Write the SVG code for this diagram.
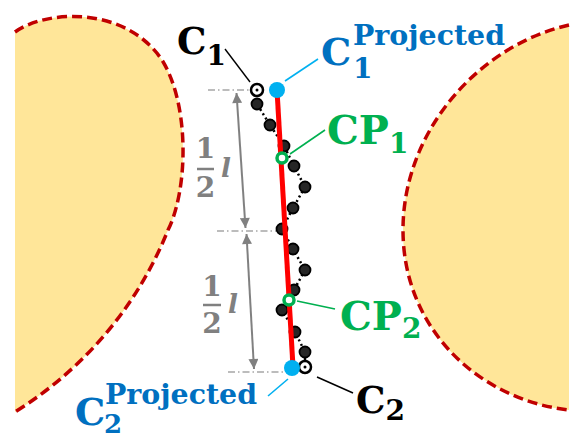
<svg xmlns="http://www.w3.org/2000/svg" width="572" height="440" viewBox="0 0 572 440">
<style>
.blob{fill:#FFE699;stroke:#C00000;stroke-width:3.5;stroke-dasharray:10 5}
.t{font-family:"DejaVu Serif","Liberation Serif",serif;font-weight:bold}
.dd{stroke:#A6A6A6;stroke-width:1.3;stroke-dasharray:7 3 1.5 3;fill:none}
.dim{stroke:#808080;stroke-width:2;fill:none}
.dot{fill:#262626;stroke:#000;stroke-width:1.8}
.grey{fill:#808080}
</style>
<defs>
<marker id="ah" viewBox="0 0 10 10" refX="10" refY="5" markerWidth="11" markerHeight="10" markerUnits="userSpaceOnUse" orient="auto-start-reverse">
<path d="M0,0 L10,5 L0,10 Z" fill="#808080"/>
</marker>
</defs>
<rect width="572" height="440" fill="#fff"/>
<g id="obstacle-left"><path class="blob" d="M15,32 C45,10 125,5 162,60 C190,105 188,190 168,230 C140,300 90,365 15,412"/></g>
<g id="obstacle-right"><path class="blob" d="M569,25 C480,45 403,130 403,230 C403,330 480,400 569,410"/></g>
<g id="dimensions">
<line class="dd" x1="208" y1="90" x2="253" y2="90"/>
<line class="dd" x1="217" y1="231" x2="281" y2="231"/>
<line class="dd" x1="228" y1="372" x2="290" y2="372"/>
<line class="dim" x1="236.5" y1="93" x2="245.5" y2="228" marker-start="url(#ah)" marker-end="url(#ah)"/>
<line class="dim" x1="246.5" y1="234" x2="254" y2="369" marker-start="url(#ah)" marker-end="url(#ah)"/>
<g id="half-l-1">
<text class="t grey" x="205.5" y="158" font-size="28" text-anchor="middle">1</text>
<line x1="197" y1="169" x2="214" y2="169" stroke="#808080" stroke-width="2.5"/>
<text class="t grey" x="205.5" y="197" font-size="28" text-anchor="middle">2</text>
<text class="t grey" x="221" y="177" font-size="26" font-style="italic">l</text>
</g>
<g id="half-l-2">
<text class="t grey" x="212" y="296" font-size="28" text-anchor="middle">1</text>
<line x1="203" y1="305" x2="221" y2="305" stroke="#808080" stroke-width="2.5"/>
<text class="t grey" x="212" y="333" font-size="28" text-anchor="middle">2</text>
<text class="t grey" x="228" y="313" font-size="26" font-style="italic">l</text>
</g>
</g>
<g id="connectors">
<polyline fill="none" stroke="#000" stroke-width="2.5" stroke-dasharray="2 3" points="257,90 257,104 270,125 284,146 294,166 305,187 293,208 282,229 293,249 305,270 294,290 282,310 295,332 305,352 305,367"/>
<line x1="225" y1="49" x2="250" y2="82" stroke="#000" stroke-width="1.4"/>
<line x1="285" y1="81" x2="318" y2="59" stroke="#00B0F0" stroke-width="1.6"/>
<line x1="290" y1="154" x2="325" y2="130" stroke="#00B050" stroke-width="1.6"/>
<line x1="297" y1="301" x2="335" y2="309" stroke="#00B050" stroke-width="1.6"/>
<line x1="317" y1="377" x2="353" y2="393" stroke="#000" stroke-width="1.4"/>
<line x1="268" y1="396" x2="288" y2="379" stroke="#00B0F0" stroke-width="1.6"/>
</g>
<g id="samples">
<circle class="dot" cx="257" cy="104" r="5.5"/>
<circle class="dot" cx="270" cy="125" r="5.5"/>
<circle class="dot" cx="284" cy="146" r="5.5"/>
<circle class="dot" cx="294" cy="166" r="5.5"/>
<circle class="dot" cx="305" cy="187" r="5.5"/>
<circle class="dot" cx="293" cy="208" r="5.5"/>
<circle class="dot" cx="282" cy="229" r="5.5"/>
<circle class="dot" cx="293" cy="249" r="5.5"/>
<circle class="dot" cx="305" cy="270" r="5.5"/>
<circle class="dot" cx="294" cy="290" r="5.5"/>
<circle class="dot" cx="282" cy="310" r="5.5"/>
<circle class="dot" cx="295" cy="332" r="5.5"/>
<circle class="dot" cx="305" cy="352" r="5.5"/>
</g>
<g id="path-segment"><line x1="277" y1="90" x2="293" y2="367" stroke="#FF0000" stroke-width="5"/></g>
<g id="C1">
<circle cx="257" cy="90" r="6" fill="#fff" stroke="#000" stroke-width="2.5"/>
<circle cx="257" cy="90" r="1.5" fill="#000"/>
<text class="t" x="177" y="54" font-size="37" fill="#000">C<tspan font-size="28" y="65">1</tspan></text>
</g>
<g id="C2">
<circle cx="305" cy="367" r="6" fill="#fff" stroke="#000" stroke-width="2.5"/>
<circle cx="305" cy="367" r="1.5" fill="#000"/>
<text class="t" x="356" y="413" font-size="37" fill="#000">C<tspan font-size="28" y="420">2</tspan></text>
</g>
<g id="C1-projected">
<circle cx="277" cy="90" r="8" fill="#00B0F0"/>
<text class="t" x="321" y="65" font-size="38" fill="#0070C0">C</text>
<text class="t" x="353" y="78" font-size="28" fill="#0070C0">1</text>
<text class="t" x="353" y="45" font-size="28" fill="#0070C0" textLength="152" lengthAdjust="spacingAndGlyphs">Projected</text>
</g>
<g id="C2-projected">
<circle cx="292" cy="368" r="8" fill="#00B0F0"/>
<text class="t" x="75" y="425" font-size="38" fill="#0070C0">C</text>
<text class="t" x="104" y="433" font-size="26" fill="#0070C0">2</text>
<text class="t" x="105" y="404" font-size="28" fill="#0070C0" textLength="152" lengthAdjust="spacingAndGlyphs">Projected</text>
</g>
<g id="CP1">
<circle cx="282" cy="158" r="5" fill="#fff" stroke="#00B050" stroke-width="3.5"/>
<text class="t" x="327" y="144" font-size="40" fill="#00B050">CP<tspan font-size="28" y="153">1</tspan></text>
</g>
<g id="CP2">
<circle cx="289" cy="300" r="5" fill="#fff" stroke="#00B050" stroke-width="3.5"/>
<text class="t" x="340" y="330" font-size="40" fill="#00B050">CP<tspan font-size="28" y="338">2</tspan></text>
</g>
</svg>
